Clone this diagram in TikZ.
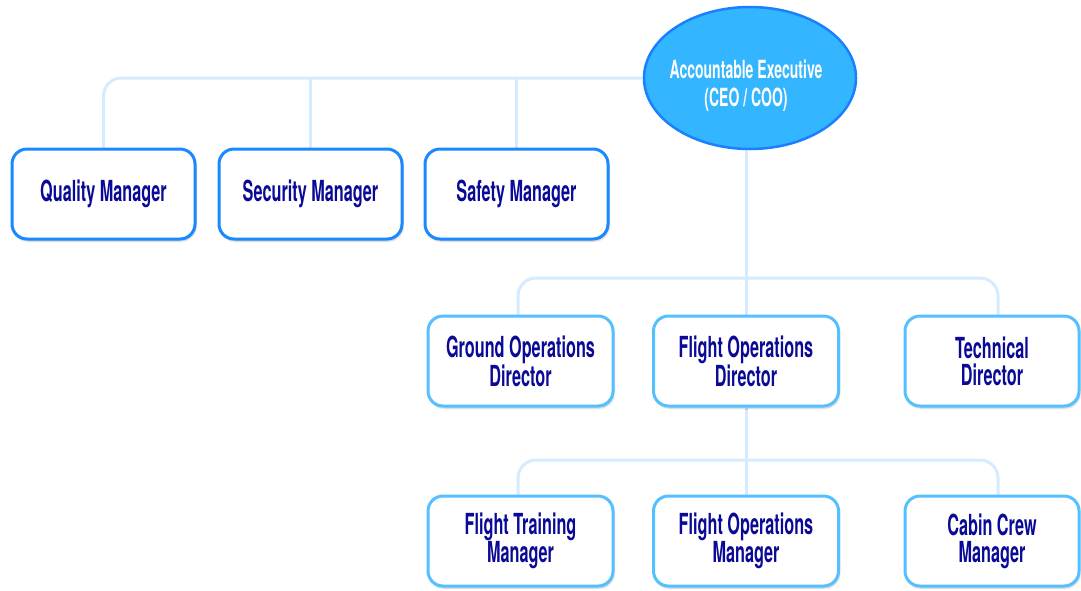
\documentclass[tikz,border=0pt]{standalone}
\usepackage{fontspec}
\newfontfamily\orgfont{TeX Gyre Heros}[FakeStretch=0.56]
\usetikzlibrary{shapes.geometric,shadows.blur,backgrounds}
\definecolor{navytext}{RGB}{10,10,150}
\definecolor{topedge}{RGB}{26,136,255}
\definecolor{lowedge}{RGB}{85,192,255}
\definecolor{ceofill}{RGB}{51,181,255}
\definecolor{ceoedge}{RGB}{26,128,255}
\definecolor{wire}{RGB}{214,235,255}
\tikzset{
  orgbox/.style={draw, fill=white, rounded corners=15pt, line width=3pt,
    minimum height=90pt, align=center, text=navytext,
    font=\orgfont\bfseries\fontsize{29}{27}\selectfont,
    blur shadow={shadow xshift=1pt, shadow yshift=-2pt, shadow blur steps=6, shadow opacity=25}},
  upperbox/.style={orgbox, draw=topedge, minimum width=183pt},
  lowerbox/.style={orgbox, draw=lowedge, minimum width=185pt},
  link/.style={draw=wire, line width=3pt, rounded corners=18pt},
}
\begin{document}
\begin{tikzpicture}[x=1pt, y=-1pt]
\useasboundingbox (0,0) rectangle (1081,590);

% top level
\node[ellipse, draw=ceoedge, fill=ceofill, line width=2.5pt,
      minimum width=212pt, minimum height=142pt, inner sep=0pt] (ceo) at (750,78) {};
\node[align=center, text=white, font=\orgfont\bfseries\fontsize{25}{28}\selectfont]
      (ceolabel) at (746,86) {Accountable Executive\\(CEO / COO)};

% managers reporting to the executive
\node[upperbox] (quality) at (103.5,194) {Quality Manager};
\node[upperbox] (security) at (310.5,194) {Security Manager};
\node[upperbox] (safety) at (516.5,194) {Safety Manager};

% directors
\node[lowerbox] (ground) at (520.5,361) {Ground Operations\\Director};
\node[lowerbox] (flightdir) at (746,361) {Flight Operations\\Director};
\node[lowerbox, minimum width=174pt] (technical) at (992,361) {Technical\\Director};

% managers under flight operations
\node[lowerbox] (training) at (520.5,541) {Flight Training\\Manager};
\node[lowerbox] (flightmgr) at (746,541) {Flight Operations\\Manager};
\node[lowerbox, minimum width=174pt] (cabin) at (992,541) {Cabin Crew\\Manager};

% reporting lines, kept behind the boxes
\begin{scope}[on background layer]
  \draw[link] (ceo.west) -| (quality.north);
  \draw[link] (security.north) -- (security.north |- ceo.west);
  \draw[link] (safety.north) -- (safety.north |- ceo.west);

  \draw[link] (ceo.south -| flightdir.north) -- (flightdir.north);
  \draw[link] ([xshift=-2.5pt]ground.north) |- (746,278) -| ([xshift=6pt]technical.north);

  \draw[link] (flightdir.south) -- (flightmgr.north);
  \draw[link] ([xshift=-2.5pt]training.north) |- (746,460) -| ([xshift=6pt]cabin.north);
\end{scope}
\end{tikzpicture}
\end{document}
